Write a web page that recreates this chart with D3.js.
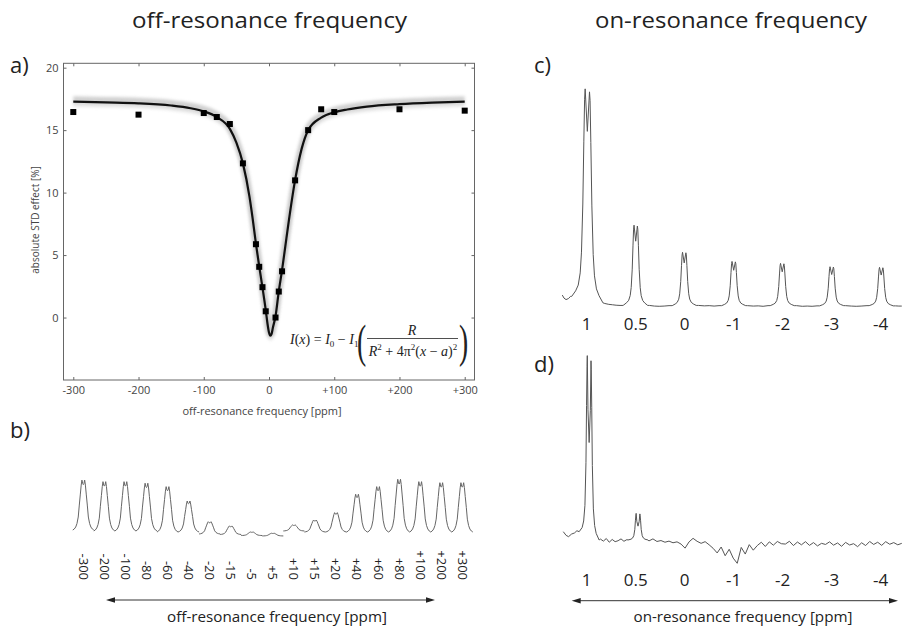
<!DOCTYPE html>
<html>
<head>
<meta charset="utf-8">
<script src="https://cdn.jsdelivr.net/npm/d3@7"></script>
<style>
  body { margin: 0; background: #fff; }
  text { font-family: "Open Sans", "Noto Sans", sans-serif; }
</style>
</head>
<body>
<svg id="fig" width="902" height="629"></svg>
<script>
// ---------- panel a: STD effect vs off-resonance frequency ----------
const offFreq   = [-300, -200, -100, -80, -60, -40, -20, -15, -10, -5, 10, 15, 20, 40, 60, 80, 100, 200, 300];
const stdEffect = [16.45, 16.24, 16.37, 16.05, 15.49, 12.34, 5.87, 4.06, 2.43, 0.5, 0.0, 2.08, 3.7, 10.98, 15.0, 16.67, 16.45, 16.67, 16.56];

// fitted curve
const fitFreq   = [-300, -250, -200, -150, -120, -100, -80, -60, -50, -40, -30, -25, -20, -15, -10, -5, -2, 0, 2, 4, 6, 10, 15, 20, 25, 30, 40, 50, 60, 80, 100, 120, 150, 200, 250, 300];
const fitEffect = [17.28, 17.22, 17.15, 16.97, 16.75, 16.5, 16.05, 15.1, 14.0, 12.34, 9.7, 7.9, 5.9, 4.1, 2.4, 0.6, -0.6, -1.2, -1.45, -1.3, -0.8, 0.1, 2.1, 3.8, 5.7, 7.6, 11.0, 13.5, 15.0, 16.0, 16.42, 16.65, 16.88, 17.08, 17.2, 17.28];

const aTicksX = [-300, -200, -100, 0, 100, 200, 300];
const aTicksY = [0, 5, 10, 15, 20];

// ---------- panel b: one spectrum per saturation frequency ----------
const bLabels  = ["-300", "-200", "-100", "-80", "-60", "-40", "-20", "-15", "-5", "+5", "+10", "+15", "+20", "+40", "+60", "+80", "+100", "+200", "+300"];
const bHeights = [48, 47.4, 47.4, 45.9, 43.6, 29.8, 11.8, 8.2, 3.4, 2.6, 5.8, 11.5, 18.6, 36.3, 43.6, 50.7, 48.4, 47.4, 47.4];
const bBase    = [1.9, 1, 1, 1, 0, 0, -1.9, -2.4, -3.4, -3.8, 1, 0, 0, 0, 0, 0, 0, 0, 0];

// ---------- panels c and d: on-resonance spectra ----------
const ppmLabels = ["1", "0.5", "0", "-1", "-2", "-3", "-4"];

const cPeakPos   = [0.013, 1.0, 1.99, 3.0, 3.99, 5.0, 6.01];
const cPeakH     = [97.5, 37.1, 24.7, 20.5, 19.6, 18.1, 17.8];
const cPeakW     = [1.3, 1, 1, 1, 1, 1, 1];
const cBaseLeft  = [4, 0, -0.3, -0.3, -0.3, -0.4, -0.3];
const cBaseRight = [1, -0.2, -0.2, -0.3, -0.3, -0.3, -0.4];
const cBaseline  = [[-0.498, 4.6], [-0.463, 3.2], [-0.422, 2.5], [-0.371, 3.0], [-0.33, 4.0],
  [0.37, 0.7], [0.45, 0.3], [0.53, 0.1], [0.6, -0.1], [0.68, -0.2], [0.74, -0.2],
  [1.28, -0.2], [1.38, -0.5], [1.48, -0.6], [1.58, -0.5], [1.68, -0.3],
  [2.28, -0.2], [2.4, -0.4], [2.5, -0.3], [2.6, -0.5], [2.7, -0.3],
  [3.28, -0.3], [3.4, -0.5], [3.5, -0.4], [3.6, -0.6], [3.7, -0.3],
  [4.28, -0.3], [4.4, -0.6], [4.5, -0.5], [4.6, -0.6], [4.7, -0.4],
  [5.28, -0.3], [5.4, -0.5], [5.5, -0.6], [5.6, -0.5], [5.72, -0.3],
  [6.3, -0.4], [6.37, -0.5], [6.43, -0.5]];

const dPeakPos   = [0.05, 1.047];
const dPeakH     = [97, 14.4];
const dPeakW     = [1, 1];
const dBaseLeft  = [4.5, 0];
const dBaseRight = [0, 0];
const dBaseLeftSide = [[-0.478, 4.5], [-0.42, 2.5], [-0.37, 1.8], [-0.31, 3.2], [-0.25, 3.8], [-0.2, 5.0]];
const dNoiseA = [0.5, -0.6, 0.8, -1.2, 0.3, -0.9, -0.4, 0.6, -0.7, 0.2];      // u = 0.28 .. 0.82
const dNoiseB = [-0.5, 0.6, -0.8, -0.3, -1.2, -0.6, -1.5, -1.0, -2.2, -4.4, -1.0, 0.9, -0.7, -1.8, -0.9, -2.6,
  -4.5, -7.0, -3.8, -8.5, -5.0, -9.8, -12.6, -4.0, -7.6, -2.5, -5.5, -3.0, -1.2, -3.5, -1.0, -2.8,
  -0.8, -2.0, -2.2, -0.7, -3.0, -1.1, -2.6, -0.9, -2.9, -1.4, -3.2, -1.8, -2.4, -1.0, -2.8, -1.6,
  -3.4, -1.3, -2.7, -2.0, -3.6, -1.5, -3.0, -0.8, -2.4, -1.2, -2.9, -0.9, -2.3, -1.4, -2.6, -1.8];  // u = 1.27 .. 6.43

// peak line shapes (offset in label spacings, relative height)
const bShape = [[-0.5, 0], [-0.43, 0.02], [-0.36, 0.06], [-0.3, 0.13], [-0.24, 0.26], [-0.19, 0.5], [-0.14, 0.72],
  [-0.1, 0.9], [-0.065, 1.0], [-0.03, 0.93], [0, 0.91], [0.03, 0.93], [0.065, 1.0], [0.1, 0.9], [0.14, 0.72],
  [0.19, 0.5], [0.24, 0.26], [0.3, 0.13], [0.36, 0.06], [0.43, 0.02], [0.5, 0]];
const cShape = [[-0.245, 0], [-0.184, 0.03], [-0.143, 0.06], [-0.112, 0.12], [-0.092, 0.22], [-0.071, 0.45],
  [-0.055, 0.75], [-0.043, 0.95], [-0.034, 1.0], [0, 0.8], [0.034, 0.99], [0.043, 0.95], [0.055, 0.75],
  [0.071, 0.45], [0.092, 0.22], [0.112, 0.12], [0.143, 0.06], [0.184, 0.03], [0.245, 0]];
const dShape = [[-0.204, 0], [-0.143, 0.03], [-0.112, 0.07], [-0.086, 0.16], [-0.065, 0.4], [-0.053, 0.72],
  [-0.043, 0.94], [-0.038, 1.0], [-0.024, 0.7], [0, 0.52], [0.024, 0.7], [0.038, 0.98], [0.043, 0.93],
  [0.053, 0.72], [0.065, 0.4], [0.086, 0.16], [0.112, 0.07], [0.143, 0.03], [0.204, 0]];

// ---------------------------------------------------------------
const svg = d3.select("#fig");
svg.append("rect").attr("width", 902).attr("height", 629).attr("fill", "#fff");

const defs = svg.append("defs");
defs.append("filter").attr("id", "blur").attr("x", "-10%").attr("y", "-10%").attr("width", "120%").attr("height", "120%")
  .append("feGaussianBlur").attr("stdDeviation", 1.8);

// titles and panel letters (the source figure is slightly stretched horizontally)
svg.append("text").attr("x", 132).attr("y", 28).attr("font-size", 21)
  .attr("textLength", 275).attr("lengthAdjust", "spacingAndGlyphs")
  .attr("fill", "#222").text("off-resonance frequency");
svg.append("text").attr("x", 595).attr("y", 28).attr("font-size", 21)
  .attr("textLength", 272).attr("lengthAdjust", "spacingAndGlyphs")
  .attr("fill", "#222").text("on-resonance frequency");

[["a)", 10, 73], ["b)", 10, 438], ["c)", 534, 73], ["d)", 534, 372]].forEach(([t, x, y]) => {
  svg.append("text").attr("x", x).attr("y", y).attr("font-size", 22).attr("fill", "#222").text(t);
});

// ---------- panel a ----------
const box = { left: 63.5, right: 474.5, top: 63.3, bottom: 380 };
const xA = d3.scaleLinear().domain([-315, 315]).range([box.left, box.right]);
const yA = d3.scaleLinear().domain([-5, 20.35]).range([box.bottom, box.top]);

const gA = svg.append("g");
const fmtX = d => d > 0 ? "+" + d : String(d);

gA.append("g").attr("transform", `translate(0,${box.bottom})`)
  .call(d3.axisBottom(xA).tickValues(aTicksX).tickSize(-3).tickPadding(6).tickFormat(fmtX));
gA.append("g").attr("transform", `translate(0,${box.top})`)
  .call(d3.axisTop(xA).tickValues(aTicksX).tickSize(-3).tickFormat(""));
gA.append("g").attr("transform", `translate(${box.left},0)`)
  .call(d3.axisLeft(yA).tickValues(aTicksY).tickSize(-3).tickPadding(5));
gA.append("g").attr("transform", `translate(${box.right},0)`)
  .call(d3.axisRight(yA).tickValues(aTicksY).tickSize(-3).tickFormat(""));

gA.selectAll(".domain").remove();
gA.selectAll(".tick line").attr("stroke", "#666");
gA.selectAll(".tick text").attr("font-size", 11).attr("fill", "#444")
  .attr("font-family", '"Open Sans", sans-serif');

gA.append("rect").attr("x", box.left).attr("y", box.top)
  .attr("width", box.right - box.left).attr("height", box.bottom - box.top)
  .attr("fill", "none").attr("stroke", "#666").attr("stroke-width", 1);

const fitData = fitFreq.map((f, i) => [f, fitEffect[i]]);
const fitLine = d3.line().x(d => xA(d[0])).y(d => yA(d[1])).curve(d3.curveMonotoneX);

// fuzzy band around the fit
gA.append("path").datum(fitData).attr("d", fitLine)
  .attr("fill", "none").attr("stroke", "#9a9a9a").attr("stroke-width", 7).attr("opacity", 0.45)
  .attr("transform", "translate(0,-2)").attr("filter", "url(#blur)");
gA.append("path").datum(fitData).attr("d", fitLine)
  .attr("fill", "none").attr("stroke", "#bbb").attr("stroke-width", 5).attr("opacity", 0.35)
  .attr("transform", "translate(0,2.5)").attr("filter", "url(#blur)");
gA.append("path").datum(fitData).attr("d", fitLine)
  .attr("fill", "none").attr("stroke", "#111").attr("stroke-width", 2.2);

gA.selectAll("rect.pt").data(offFreq).join("rect").attr("class", "pt")
  .attr("x", d => xA(d) - 3).attr("y", (d, i) => yA(stdEffect[i]) - 3)
  .attr("width", 6).attr("height", 6).attr("fill", "#000");

gA.append("text").attr("transform", "translate(38.5,220) rotate(-90)")
  .attr("text-anchor", "middle").attr("font-size", 10).attr("fill", "#444")
  .text("absolute STD effect [%]");
gA.append("text").attr("x", 262).attr("y", 415).attr("text-anchor", "middle")
  .attr("font-size", 11).attr("fill", "#444").text("off-resonance frequency [ppm]");

// formula
const fx = gA.append("g").attr("fill", "#222");
const f1 = fx.append("text").attr("x", 290).attr("y", 344).attr("font-size", 14)
  .style("font-family", '"Liberation Serif", serif');
f1.append("tspan").attr("font-style", "italic").text("I");
f1.append("tspan").text("(");
f1.append("tspan").attr("font-style", "italic").text("x");
f1.append("tspan").text(") = ");
f1.append("tspan").attr("font-style", "italic").text("I");
f1.append("tspan").attr("font-size", 9).attr("dy", 3).text("0");
f1.append("tspan").attr("dy", -3).text(" \u2212 ");
f1.append("tspan").attr("font-style", "italic").text("I");
f1.append("tspan").attr("font-size", 9).attr("dy", 3).text("1");

fx.append("text").attr("transform", "translate(357,357) scale(0.6,1)").attr("font-size", 46)
  .style("font-family", '"Liberation Serif", serif').text("(");
fx.append("text").attr("transform", "translate(459,357) scale(0.6,1)").attr("font-size", 46)
  .style("font-family", '"Liberation Serif", serif').text(")");

fx.append("text").attr("x", 412).attr("y", 335).attr("text-anchor", "middle").attr("font-size", 14)
  .attr("font-style", "italic").style("font-family", '"Liberation Serif", serif').text("R");
fx.append("line").attr("x1", 367).attr("x2", 458).attr("y1", 338.5).attr("y2", 338.5)
  .attr("stroke", "#222").attr("stroke-width", 0.8);
const den = fx.append("text").attr("x", 413).attr("y", 356).attr("text-anchor", "middle").attr("font-size", 14)
  .style("font-family", '"Liberation Serif", serif');
den.append("tspan").attr("font-style", "italic").text("R");
den.append("tspan").attr("font-size", 9).attr("dy", -6).text("2");
den.append("tspan").attr("dy", 6).text(" + 4\u03c0");
den.append("tspan").attr("font-size", 9).attr("dy", -6).text("2");
den.append("tspan").attr("dy", 6).text("(");
den.append("tspan").attr("font-style", "italic").text("x");
den.append("tspan").text(" \u2212 ");
den.append("tspan").attr("font-style", "italic").text("a");
den.append("tspan").text(")");
den.append("tspan").attr("font-size", 9).attr("dy", -6).text("2");

// ---------- spectrum helper ----------
function buildSpectrum(pos, heights, widths, baseL, baseR, shape, baseline) {
  const lo = shape[0][0], hi = shape[shape.length - 1][0];
  const pts = [];
  pos.forEach((u, i) => {
    shape.forEach(([o, r]) => {
      const t = (o - lo) / (hi - lo);
      pts.push([u + o * widths[i], baseL[i] + (baseR[i] - baseL[i]) * t + heights[i] * r]);
    });
  });
  const inside = u => pos.some((p, i) => u > p + lo * widths[i] && u < p + hi * widths[i]);
  baseline.forEach(b => { if (!inside(b[0])) pts.push(b); });
  return pts.sort((a, b) => a[0] - b[0]);
}

// ---------- panel b ----------
const xB = d3.scaleLinear().domain([0, bLabels.length - 1]).range([83.3, 462.3]);
const yB = d3.scaleLinear().domain([0, 50]).range([532, 480]);
const lineB = d3.line().x(d => xB(d[0])).y(d => yB(d[1]));

bLabels.forEach((lab, i) => {
  const seg = buildSpectrum([i], [bHeights[i]], [1], [bBase[i]], [bBase[i]], bShape, []);
  svg.append("path").datum(seg).attr("d", lineB)
    .attr("fill", "none").attr("stroke", "#666").attr("stroke-width", 1);
});

svg.append("g").selectAll("text").data(bLabels).join("text")
  .attr("transform", (d, i) => `translate(${xB(i)},580) rotate(90)`)
  .attr("text-anchor", "end").attr("dy", "0.35em")
  .attr("font-size", 13).attr("fill", "#222").text(d => d);

function arrow(x1, x2, y) {
  const g = svg.append("g");
  g.append("line").attr("x1", x1 + 6).attr("x2", x2 - 6).attr("y1", y).attr("y2", y)
    .attr("stroke", "#333").attr("stroke-width", 1);
  g.append("path").attr("d", `M${x1},${y} L${x1 + 9},${y - 2.8} L${x1 + 9},${y + 2.8} Z`).attr("fill", "#222");
  g.append("path").attr("d", `M${x2},${y} L${x2 - 9},${y - 2.8} L${x2 - 9},${y + 2.8} Z`).attr("fill", "#222");
}
arrow(106, 435, 600);
svg.append("text").attr("x", 277).attr("y", 622).attr("text-anchor", "middle")
  .attr("font-size", 15.2).attr("fill", "#222").text("off-resonance frequency [ppm]");

// ---------- panel c ----------
const xCD = d3.scaleLinear().domain([0, ppmLabels.length - 1]).range([586.7, 880.7]);
const yC = d3.scaleLinear().domain([0, 100]).range([305, 89.3]);
const lineC = d3.line().x(d => xCD(d[0])).y(d => yC(d[1]));

const cSpec = buildSpectrum(cPeakPos, cPeakH, cPeakW, cBaseLeft, cBaseRight, cShape, cBaseline);
svg.append("path").datum(cSpec).attr("d", lineC)
  .attr("fill", "none").attr("stroke", "#555").attr("stroke-width", 1);

svg.append("g").selectAll("text").data(ppmLabels).join("text")
  .attr("x", (d, i) => xCD(i)).attr("y", 330).attr("text-anchor", "middle")
  .attr("font-size", 17).attr("fill", "#222").text(d => d);

// ---------- panel d ----------
const yD = d3.scaleLinear().domain([0, 100]).range([540, 355]);
const lineD = d3.line().x(d => xCD(d[0])).y(d => yD(d[1]));

const dBaseline = dBaseLeftSide
  .concat(dNoiseA.map((v, i) => [0.28 + i * 0.06, v]))
  .concat(dNoiseB.map((v, i) => [1.27 + i * (6.43 - 1.27) / (dNoiseB.length - 1), v]));
const dSpec = buildSpectrum(dPeakPos, dPeakH, dPeakW, dBaseLeft, dBaseRight, dShape, dBaseline);
svg.append("path").datum(dSpec).attr("d", lineD)
  .attr("fill", "none").attr("stroke", "#555").attr("stroke-width", 1);

svg.append("g").selectAll("text").data(ppmLabels).join("text")
  .attr("x", (d, i) => xCD(i)).attr("y", 586).attr("text-anchor", "middle")
  .attr("font-size", 17).attr("fill", "#222").text(d => d);

arrow(571.7, 898, 600.7);
svg.append("text").attr("x", 743).attr("y", 622).attr("text-anchor", "middle")
  .attr("font-size", 15.2).attr("fill", "#222").text("on-resonance frequency [ppm]");
</script>
</body>
</html>
